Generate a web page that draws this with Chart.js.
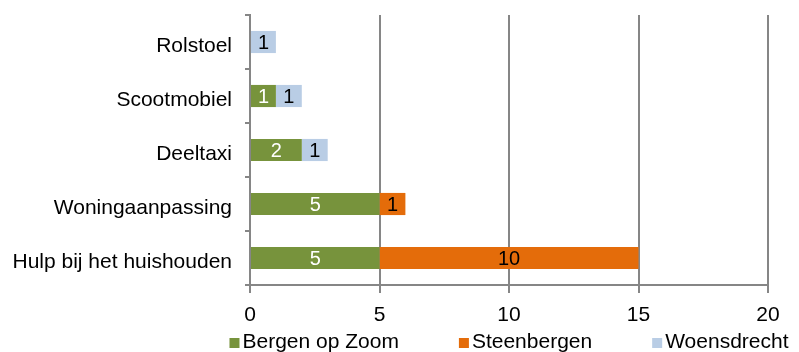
<!DOCTYPE html>
<html>
<head>
<meta charset="utf-8">
<script src="https://cdn.jsdelivr.net/npm/chart.js@4"></script>
<style>
    body { margin: 0; background: #fff; }
    #wrap { width: 799px; height: 352px; }
</style>
</head>
<body>
<div id="wrap"><canvas id="voorzieningenChart" width="799" height="352"></canvas></div>
<script>
const categories = ["Rolstoel", "Scootmobiel", "Deeltaxi", "Woningaanpassing", "Hulp bij het huishouden"];
const bergenOpZoom = [0, 1, 2, 5, 5];
const steenbergen = [0, 0, 0, 1, 10];
const woensdrecht = [1, 1, 1, 0, 0];
const xTicks = [0, 5, 10, 15, 20];

const FONT = "Liberation Sans, Arial, Helvetica, sans-serif";
const GRID = "#868686";

// waarden in het midden van elk balkstuk
const barLabels = {
    id: "barLabels",
    afterDatasetsDraw(chart) {
        const ctx = chart.ctx;
        ctx.save();
        ctx.font = "20px " + FONT;
        ctx.textAlign = "center";
        ctx.textBaseline = "middle";
        chart.data.datasets.forEach((ds, i) => {
            const meta = chart.getDatasetMeta(i);
            meta.data.forEach((bar, j) => {
                const v = ds.data[j];
                if (!v) return;
                ctx.fillStyle = ds.labelColor;
                ctx.fillText(String(v), (bar.x + bar.base) / 2, bar.y + 1);
            });
        });
        ctx.restore();
    }
};

// legenda onder de grafiek, gecentreerd op het plotgebied
const bottomLegend = {
    id: "bottomLegend",
    afterDraw(chart) {
        const ctx = chart.ctx;
        const area = chart.chartArea;
        const box = 10, gap = 3, spacing = 60;
        ctx.save();
        ctx.font = "21px " + FONT;
        const items = chart.data.datasets.map(ds => ({
            text: ds.label,
            color: ds.backgroundColor,
            w: box + gap + ctx.measureText(ds.label).width
        }));
        const total = items.reduce((s, it) => s + it.w, 0) + spacing * (items.length - 1);
        let x = (area.left + area.right) / 2 - total / 2;
        const baseline = 348;
        ctx.textBaseline = "alphabetic";
        ctx.textAlign = "left";
        items.forEach(it => {
            ctx.fillStyle = it.color;
            ctx.fillRect(x, baseline - box, box, box);
            ctx.fillStyle = "#000";
            ctx.fillText(it.text, x + box + gap, baseline);
            x += it.w + spacing;
        });
        ctx.restore();
    }
};

const ctx = document.getElementById("voorzieningenChart").getContext("2d");
const chart = new Chart(ctx, {
    type: "bar",
    data: {
        labels: categories,
        datasets: [{
            label: "Bergen op Zoom",
            data: bergenOpZoom,
            backgroundColor: "#77933C",
            labelColor: "#fff"
        }, {
            label: "Steenbergen",
            data: steenbergen,
            backgroundColor: "#E46C0A",
            labelColor: "#000"
        }, {
            label: "Woensdrecht",
            data: woensdrecht,
            backgroundColor: "#B9CDE5",
            labelColor: "#000"
        }]
    },
    options: {
        indexAxis: "y",
        responsive: false,
        animation: false,
        devicePixelRatio: 1,
        layout: { padding: { top: 15, right: 31, bottom: 0, left: 0 } },
        datasets: {
            bar: { categoryPercentage: 1, barPercentage: 0.41, borderWidth: 0 }
        },
        scales: {
            x: {
                stacked: true,
                min: 0,
                max: 20,
                afterBuildTicks(scale) {
                    scale.ticks = xTicks.map(v => ({ value: v }));
                },
                afterFit(scale) {
                    scale.height = 67;
                    scale.paddingLeft = 0;
                    scale.paddingRight = 0;
                },
                grid: { color: GRID, lineWidth: 2, tickLength: 8 },
                border: { color: GRID, width: 2 },
                ticks: { color: "#000", font: { family: FONT, size: 21 }, padding: 10 }
            },
            y: {
                stacked: true,
                afterFit(scale) {
                    scale.width = 250;
                    scale.paddingTop = 0;
                    scale.paddingBottom = 0;
                },
                grid: { display: true, drawOnChartArea: false, color: GRID, lineWidth: 2, tickLength: 5, offset: true },
                border: { color: GRID, width: 2 },
                ticks: { color: "#000", font: { family: FONT, size: 21 }, padding: 13, labelOffset: 4 }
            }
        },
        plugins: {
            legend: { display: false },
            tooltip: { enabled: false }
        }
    },
    plugins: [barLabels, bottomLegend]
});
</script>
</body>
</html>
